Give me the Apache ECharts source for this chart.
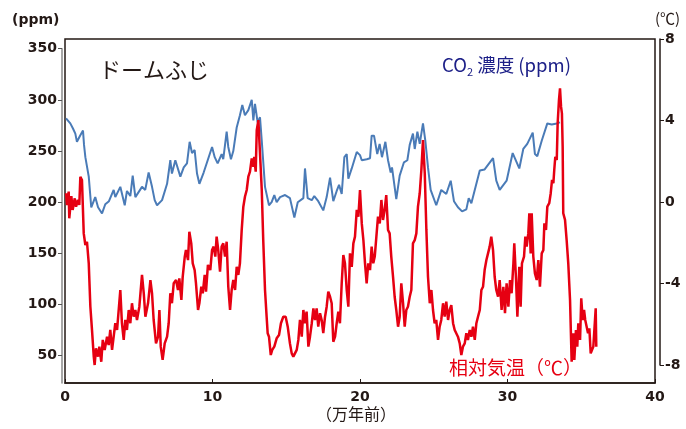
<!DOCTYPE html>
<html>
<head>
<meta charset="utf-8">
<script src="https://cdn.jsdelivr.net/npm/echarts@6/dist/echarts.min.js"></script>
<style>
  html, body { margin: 0; padding: 0; background: #fff; }
  #chart { width: 686px; height: 429px; }
</style>
</head>
<body>
<div id="chart"></div>
<script>
// 万年前
const co2Years = [0.07,0.36,0.54,0.70,0.81,1.02,1.22,1.29,1.38,1.61,
  1.78,2.05,2.24,2.51,2.73,2.98,3.30,3.41,3.75,4.05,
  4.20,4.43,4.59,4.77,5.22,5.44,5.67,5.90,6.08,6.24,
  6.58,6.92,7.14,7.25,7.48,7.82,8.05,8.27,8.45,8.61,
  8.79,8.95,9.11,9.40,9.63,9.97,10.15,10.35,10.62,10.73,
  10.96,11.07,11.25,11.41,11.64,11.86,12.02,12.20,12.43,12.66,
  12.77,12.88,13.06,13.22,13.34,13.56,13.83,14.01,14.19,14.35,
  14.58,14.92,15.25,15.55,15.78,16.16,16.27,16.45,16.73,16.90,
  17.17,17.51,17.74,17.97,18.19,18.42,18.58,18.76,18.94,19.10,
  19.21,19.44,19.78,20.00,20.12,20.46,20.68,20.79,20.95,21.17,
  21.33,21.49,21.72,21.90,22.08,22.17,22.46,22.69,22.98,23.21,
  23.37,23.59,23.71,23.89,24.05,24.27,24.43,24.61,24.79,25.17,
  25.51,25.85,26.15,26.37,26.64,26.92,27.21,27.37,27.55,28.12,
  28.45,29.02,29.24,29.47,29.94,30.35,30.80,31.07,31.34,31.71,
  31.86,32.02,32.32,32.70,33.00,33.34,33.56];
// CO2 濃度 (ppm)
const co2Ppm = [282,277,272,267,259,265,270,256,244,225,
  195,205,195,189,198,201,212,205,215,197,
  211,206,226,205,215,212,229,215,202,197,
  202,218,241,228,241,225,234,238,259,248,
  251,228,218,229,239,254,244,238,247,242,
  269,254,242,250,273,285,295,285,290,300,
  280,296,278,283,260,215,197,200,207,200,
  205,207,204,185,200,204,233,204,202,206,
  201,192,205,224,201,211,217,208,244,247,
  223,233,249,246,241,242,243,265,265,247,
  257,244,259,241,229,234,203,226,239,241,
  256,267,252,269,257,277,260,234,212,197,
  212,208,221,201,195,191,193,204,199,231,
  232,243,221,212,221,248,233,252,257,268,
  247,245,260,277,276,277,278];

const tempYears = [0.07,0.14,0.25,0.29,0.43,0.52,0.66,0.75,0.88,0.97,
  1.04,1.15,1.27,1.38,1.49,1.61,1.72,1.83,1.95,2.01,
  2.10,2.24,2.33,2.46,2.56,2.69,2.85,2.96,3.07,3.19,
  3.30,3.41,3.53,3.64,3.75,3.86,3.98,4.09,4.20,4.32,
  4.43,4.54,4.66,4.77,4.88,5.04,5.22,5.34,5.45,5.63,
  5.79,5.90,6.01,6.17,6.31,6.40,6.49,6.62,6.76,6.92,
  7.03,7.14,7.25,7.37,7.53,7.66,7.75,7.89,7.98,8.12,
  8.20,8.34,8.43,8.56,8.66,8.79,8.88,9.02,9.11,9.24,
  9.34,9.47,9.56,9.69,9.85,9.97,10.08,10.19,10.28,10.39,
  10.51,10.62,10.73,10.85,10.96,11.07,11.19,11.30,11.41,11.53,
  11.64,11.75,11.86,11.98,12.09,12.20,12.32,12.43,12.54,12.66,
  12.77,12.83,12.93,13.00,13.11,13.22,13.34,13.44,13.56,13.67,
  13.74,13.83,13.95,14.05,14.19,14.35,14.51,14.64,14.80,14.96,
  15.10,15.25,15.37,15.48,15.59,15.71,15.82,15.93,16.05,16.16,
  16.27,16.38,16.50,16.61,16.73,16.84,16.95,17.06,17.17,17.29,
  17.40,17.51,17.63,17.74,17.85,17.97,18.08,18.19,18.31,18.42,
  18.53,18.64,18.76,18.87,18.98,19.10,19.21,19.32,19.44,19.55,
  19.66,19.78,19.89,20.00,20.12,20.23,20.34,20.45,20.56,20.68,
  20.79,20.90,21.00,21.11,21.22,21.34,21.45,21.56,21.67,21.78,
  21.90,22.01,22.12,22.24,22.35,22.46,22.58,22.69,22.80,22.92,
  23.03,23.14,23.25,23.37,23.48,23.59,23.71,23.82,23.93,24.05,
  24.16,24.27,24.39,24.50,24.61,24.73,24.84,24.95,25.06,25.17,
  25.29,25.40,25.51,25.63,25.74,25.85,25.97,26.08,26.19,26.31,
  26.42,26.53,26.64,26.76,26.87,26.98,27.10,27.21,27.32,27.44,
  27.55,27.66,27.78,27.89,28.00,28.12,28.23,28.34,28.45,28.57,
  28.68,28.79,28.90,29.02,29.13,29.24,29.36,29.47,29.60,29.72,
  29.83,29.94,30.06,30.17,30.28,30.40,30.46,30.58,30.67,30.80,
  30.89,30.98,31.12,31.21,31.30,31.41,31.48,31.57,31.64,31.75,
  31.86,31.98,32.09,32.20,32.32,32.43,32.50,32.61,32.70,32.83,
  32.93,33.02,33.11,33.17,33.24,33.34,33.40,33.49,33.56,33.63,
  33.69,33.74,33.78,33.90,34.01,34.12,34.24,34.31,34.35,34.46,
  34.53,34.64,34.73,34.80,34.92,35.00,35.10,35.19,35.27,35.37,
  35.46,35.55,35.64,35.73,35.82,35.91,35.98,36.02];
// 相対気温 (℃)
const tempDiff = [0.43,-0.15,0.51,-0.80,0.29,-0.39,0.18,-0.23,0.10,-0.15,
  1.24,1.08,-1.54,-2.11,-1.95,-3.01,-5.14,-6.28,-7.59,-8.00,
  -7.18,-7.59,-7.10,-7.84,-6.77,-7.26,-6.61,-7.02,-6.28,-7.26,
  -6.61,-5.95,-6.28,-5.30,-4.32,-5.95,-6.77,-5.79,-6.28,-5.30,
  -5.95,-4.97,-5.63,-5.30,-5.79,-5.14,-3.58,-4.48,-5.63,-4.97,
  -3.83,-4.48,-5.79,-6.94,-6.61,-5.30,-7.10,-7.75,-6.94,-6.61,
  -5.95,-4.48,-4.97,-3.99,-3.83,-4.32,-3.75,-4.81,-3.67,-2.68,
  -2.36,-2.85,-1.46,-2.03,-3.01,-3.34,-3.99,-5.30,-4.97,-4.16,
  -4.48,-3.58,-4.40,-3.09,-3.34,-2.36,-2.19,-2.68,-1.70,-2.36,
  -3.42,-2.19,-2.03,-2.68,-1.95,-4.16,-5.30,-4.32,-3.83,-4.32,
  -3.18,-3.58,-3.01,-1.37,-0.23,0.26,0.59,1.24,1.49,2.14,
  1.73,2.22,1.49,3.53,4.02,4.02,0.59,-1.87,-4.32,-5.63,
  -6.44,-6.61,-7.51,-7.26,-7.10,-6.69,-6.53,-5.95,-5.63,-5.63,
  -6.12,-6.94,-7.43,-7.59,-7.67,-7.26,-6.77,-5.79,-6.61,-5.30,
  -5.95,-5.38,-7.10,-6.61,-5.95,-5.22,-5.79,-5.22,-6.12,-5.46,
  -5.79,-6.44,-5.63,-5.14,-4.40,-4.65,-4.97,-6.86,-6.61,-5.95,
  -5.38,-5.95,-3.99,-2.60,-3.01,-4.32,-5.14,-2.52,-3.18,-2.03,
  -1.70,-0.39,-0.72,0.59,-1.05,-1.87,-3.01,-3.99,-3.01,-3.34,
  -2.19,-3.01,-2.68,-1.70,-0.72,-1.05,0.10,-0.88,-0.39,0.34,
  -1.37,-1.54,-2.68,-3.67,-4.65,-5.30,-6.12,-5.63,-3.99,-4.97,
  -6.12,-5.30,-5.14,-4.65,-4.32,-2.03,-1.87,-1.54,-0.23,0.43,
  1.57,3.04,1.41,-1.37,-3.67,-4.97,-4.32,-5.30,-5.95,-5.79,
  -6.77,-6.12,-5.79,-4.97,-5.63,-4.89,-5.79,-5.30,-5.06,-5.95,
  -6.28,-6.20,-6.61,-6.94,-7.51,-7.10,-6.94,-6.44,-6.77,-6.28,
  -6.61,-6.12,-6.77,-5.95,-5.63,-5.30,-4.32,-4.16,-3.34,-2.85,
  -2.52,-2.19,-1.70,-2.36,-3.67,-4.32,-4.65,-3.83,-5.30,-4.16,
  -5.46,-3.99,-5.14,-3.83,-4.48,-3.01,-2.03,-3.83,-5.63,-3.18,
  -5.14,-3.01,-2.68,-1.70,-2.19,-1.54,-0.55,-2.52,-0.55,-2.68,
  -3.50,-3.83,-2.85,-4.16,-2.52,-2.36,-1.05,-1.37,-0.23,-0.06,
  0.43,1.08,0.92,1.57,2.22,2.06,3.86,5.01,5.58,4.68,
  4.35,2.71,-0.55,-0.88,-1.87,-3.01,-4.81,-6.77,-7.84,-6.44,
  -7.75,-6.28,-7.10,-5.95,-6.77,-4.73,-5.79,-5.30,-5.79,-5.79,
  -6.44,-6.20,-7.43,-7.51,-7.10,-7.02,-5.22,-7.10];

const ppmTicks = [50, 100, 150, 200, 250, 300, 350];
const tempTicks = [-8, -4, 0, 4, 8];
const yearTicks = [0, 10, 20, 30, 40];

const co2Data = co2Years.map((t, i) => [t, co2Ppm[i]]);
const tempData = tempYears.map((t, i) => [t, tempDiff[i]]);

const ink = '#231815';
const numFont = 'DejaVu Sans, Arial, sans-serif';
const labelFont = { fontFamily: numFont, fontWeight: 'bold', fontSize: 14, color: ink };
const jpFont = '"Noto Sans CJK JP", sans-serif';

const chart = echarts.init(document.getElementById('chart'));
chart.setOption({
  animation: false,
  backgroundColor: '#fff',
  grid: [
    // frame
    { left: 65, right: 31, top: 39, bottom: 46, show: true, borderColor: ink, borderWidth: 1.5, backgroundColor: 'transparent' },
    // left axis line (350 down to the bottom of the frame)
    { left: 65, right: 31, top: 48.7, bottom: 46 },
    // CO2 scale 50..350
    { left: 65, right: 31, top: 48.7, bottom: 73.3 },
    // temperature
    { left: 65, right: 31, top: 39, bottom: 64 }
  ],
  xAxis: [
    {
      gridIndex: 0, type: 'value', min: yearTicks[0], max: yearTicks[yearTicks.length - 1], interval: 10,
      axisLine: { onZero: false, lineStyle: { color: ink, width: 1.5 } },
      axisTick: { inside: true, length: 4, lineStyle: { color: ink } },
      axisLabel: Object.assign({ margin: 7 }, labelFont),
      splitLine: { show: false }
    },
    { gridIndex: 1, type: 'value', min: 0, max: 40, show: false },
    { gridIndex: 2, type: 'value', min: 0, max: 40, show: false },
    { gridIndex: 3, type: 'value', min: 0, max: 40, show: false }
  ],
  yAxis: [
    { gridIndex: 0, type: 'value', min: 0, max: 1, show: false },
    {
      gridIndex: 1, type: 'value', position: 'left', offset: 3, min: 0, max: 1,
      axisLine: { show: true, onZero: false, lineStyle: { color: '#8a8a8a', width: 1.5 } },
      axisTick: { show: false }, axisLabel: { show: false }, splitLine: { show: false }
    },
    {
      gridIndex: 2, type: 'value', position: 'left', offset: 3,
      min: ppmTicks[0], max: ppmTicks[ppmTicks.length - 1], interval: 50,
      axisLine: { show: false, onZero: false },
      axisTick: { show: true, length: 4, lineStyle: { color: '#555' } },
      axisLabel: Object.assign({ margin: 5 }, labelFont),
      splitLine: { show: false }
    },
    {
      gridIndex: 3, type: 'value', position: 'right', offset: 5,
      min: tempTicks[0], max: tempTicks[tempTicks.length - 1], interval: 4,
      axisLine: { show: true, onZero: false, lineStyle: { color: ink, width: 1.5 } },
      axisTick: { show: true, inside: false, length: 4, lineStyle: { color: ink } },
      axisLabel: Object.assign({ margin: 5 }, labelFont),
      splitLine: { show: false }
    }
  ],
  series: [
    {
      name: 'CO2', type: 'line', xAxisIndex: 2, yAxisIndex: 2, data: co2Data,
      symbol: 'none', lineStyle: { color: '#4a7bb7', width: 2 }, z: 2
    },
    {
      name: '相対気温', type: 'line', xAxisIndex: 3, yAxisIndex: 3, data: tempData,
      symbol: 'none', clip: false, lineStyle: { color: '#e60012', width: 2.5 }, z: 3
    }
  ],
  graphic: [
    { type: 'text', left: 12, top: 13, style: { text: '(ppm)', font: 'bold 14px ' + numFont, fill: ink } },
    { type: 'text', left: 655, top: 11, style: { text: '(℃)', font: '15px ' + jpFont, fill: ink } },
    { type: 'text', left: 99, top: 59, style: { text: 'ドームふじ', font: '22px ' + jpFont, fill: ink } },
    {
      type: 'text', left: 442, top: 56,
      style: {
        text: '{a|CO}{s|2}{a| 濃度 (ppm)}',
        rich: {
          a: { fontFamily: jpFont, fontSize: 18.5, fill: '#1d2088', lineHeight: 24 },
          s: { fontFamily: jpFont, fontSize: 11, fill: '#1d2088', lineHeight: 24, verticalAlign: 'bottom', padding: [9, 0, 0, 0] }
        }
      }
    },
    { type: 'text', left: 449, top: 358, style: { text: '相対気温（℃）', font: '19px ' + jpFont, fill: '#e60012' } },
    { type: 'text', left: 316, top: 406, style: { text: '（万年前）', font: '16px ' + jpFont, fill: ink } }
  ]
});
</script>
</body>
</html>
